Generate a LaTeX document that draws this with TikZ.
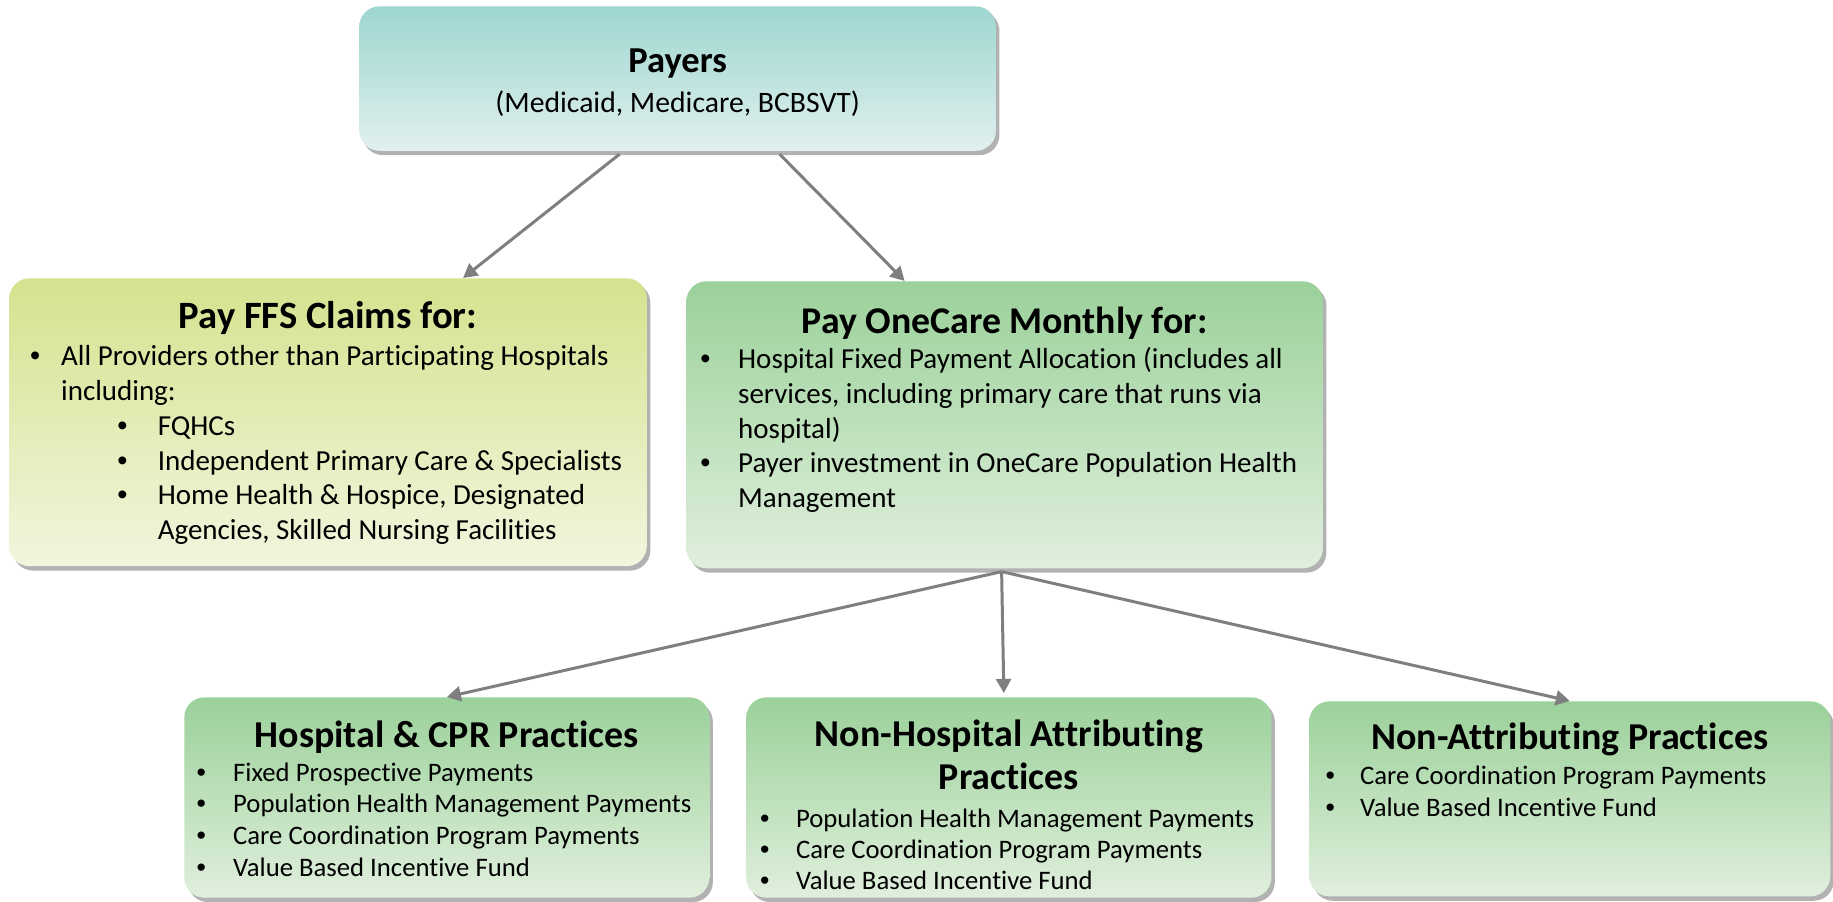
\documentclass[tikz,border=0pt]{standalone}
\usepackage{fontspec}
\setmainfont[Ligatures=NoCommon]{Carlito}
\newfontfamily\bulfont{Liberation Sans}
\usepackage{xcolor}
\usetikzlibrary{positioning,calc,shadows,arrows.meta}

\definecolor{tealtop}{HTML}{9ED6D0}
\definecolor{tealbot}{HTML}{E0F0EE}
\definecolor{limetop}{HTML}{D6E28E}
\definecolor{limebot}{HTML}{F2F5DE}
\definecolor{greentop}{HTML}{9BD19A}
\definecolor{greenbot}{HTML}{E0EFDD}
\definecolor{arrowgray}{HTML}{7F7F7F}

% bullet line: bullet centre, text offset, text
\newcommand{\bpt}[3]{\par\noindent\hangindent=#2\hangafter=1\hspace*{#1}\makebox[0pt][c]{\bulfont\textbullet}\hspace*{\dimexpr#2-#1\relax}#3\par}

\begin{document}
\begin{tikzpicture}[x=0.02cm,y=-0.02cm,
    box/.style={anchor=north west, inner sep=0pt, rounded corners=0.4cm,
        drop shadow={shadow xshift=2pt, shadow yshift=-2.5pt, fill=black, opacity=0.3}},
    payerbox/.style={box, top color=tealtop, bottom color=tealbot},
    ffsbox/.style={box, top color=limetop, bottom color=limebot},
    greenbox/.style={box, top color=greentop, bottom color=greenbot},
    flow/.style={draw=arrowgray, line width=1.7pt, -{Triangle[length=8pt,width=8.5pt]}}]
    \useasboundingbox (0,0) rectangle (1833,902);
    \fill[white] (0,0) rectangle (1833,902);

    \node (payers) [payerbox] at (359,6) {\parbox[c][82.2pt][t]{362.3pt}{\centering
        \fontsize{20.8}{24}\selectfont\bfseries\rule{0pt}{37.9pt}Payers\par
        \fontsize{16.9}{22.6}\selectfont\mdseries (Medicaid, Medicare, BCBSVT)\par}};
    \node (ffs) [ffsbox] at (9,278) {\parbox[c][163.8pt][t]{362.8pt}{\centering
        \fontsize{22}{26}\selectfont\bfseries\rule{0pt}{28.6pt}Pay FFS Claims for:\par
        \raggedright\fontsize{16.5}{19.8}\selectfont\mdseries\vspace{1.4pt}
        \bpt{14.7pt}{29.5pt}{All Providers other than Participating Hospitals\newline including:}
        \bpt{64.4pt}{84.5pt}{FQHCs}
        \bpt{64.4pt}{84.5pt}{Independent Primary Care \& Specialists}
        \bpt{64.4pt}{84.5pt}{Home Health \& Hospice, Designated\newline Agencies, Skilled Nursing Facilities}}};
    \node (onecare) [greenbox] at (686,281) {\parbox[c][163.3pt][t]{362.3pt}{\centering
        \fontsize{21.5}{26}\selectfont\bfseries\rule{0pt}{29.4pt}Pay OneCare Monthly for:\par
        \raggedright\fontsize{16.5}{19.8}\selectfont\mdseries\vspace{0.4pt}
        \bpt{10.8pt}{29.5pt}{Hospital Fixed Payment Allocation (includes all\newline services, including primary care that runs via\newline hospital)}
        \bpt{10.8pt}{29.5pt}{Payer investment in OneCare Population Health\newline Management}}};
    \node (hospcpr) [greenbox] at (184,697) {\parbox[c][114pt][t]{298.8pt}{\centering
        \fontsize{21.6}{24.4}\selectfont\bfseries\rule{0pt}{28.8pt}Hospital \& CPR Practices\par
        \raggedright\fontsize{15.2}{18.1}\selectfont\mdseries\vspace{0.8pt}
        \bpt{9.6pt}{27.8pt}{Fixed Prospective Payments}
        \bpt{9.6pt}{27.8pt}{Population Health Management Payments}
        \bpt{9.6pt}{27.8pt}{Care Coordination Program Payments}
        \bpt{9.6pt}{27.8pt}{Value Based Incentive Fund}}};
    \node (nonhosp) [greenbox] at (746,697) {\parbox[c][114pt][t]{298.8pt}{\centering
        \fontsize{21.6}{24.4}\selectfont\bfseries\rule{0pt}{28.2pt}Non-Hospital Attributing\\Practices\par
        \raggedright\fontsize{15.2}{17.5}\selectfont\mdseries\vspace{4.2pt}
        \bpt{10.5pt}{28.3pt}{Population Health Management Payments}
        \bpt{10.5pt}{28.3pt}{Care Coordination Program Payments}
        \bpt{10.5pt}{28.3pt}{Value Based Incentive Fund}}};
    \node (nonattr) [greenbox] at (1309,701) {\parbox[c][111pt][t]{296.5pt}{\centering
        \fontsize{21.6}{24.4}\selectfont\bfseries\rule{0pt}{27.6pt}Non-Attributing Practices\par
        \raggedright\fontsize{15.2}{18.1}\selectfont\mdseries\vspace{1.8pt}
        \bpt{11.9pt}{28.9pt}{Care Coordination Program Payments}
        \bpt{11.9pt}{28.9pt}{Value Based Incentive Fund}}};

    \draw[flow] ($(payers.south)+(-58,3)$) -- ($(ffs.north)+(135,0)$);
    \draw[flow] ($(payers.south)+(102,3)$) -- ($(onecare.north)+(-100,0)$);
    \draw[flow] ($(onecare.south)+(-3,3)$) -- (hospcpr.north);
    \draw[flow] ($(onecare.south)+(-3,3)$) -- ($(nonhosp.north)+(-5,-4)$);
    \draw[flow] ($(onecare.south)+(-3,3)$) -- (nonattr.north);
\end{tikzpicture}
\end{document}
